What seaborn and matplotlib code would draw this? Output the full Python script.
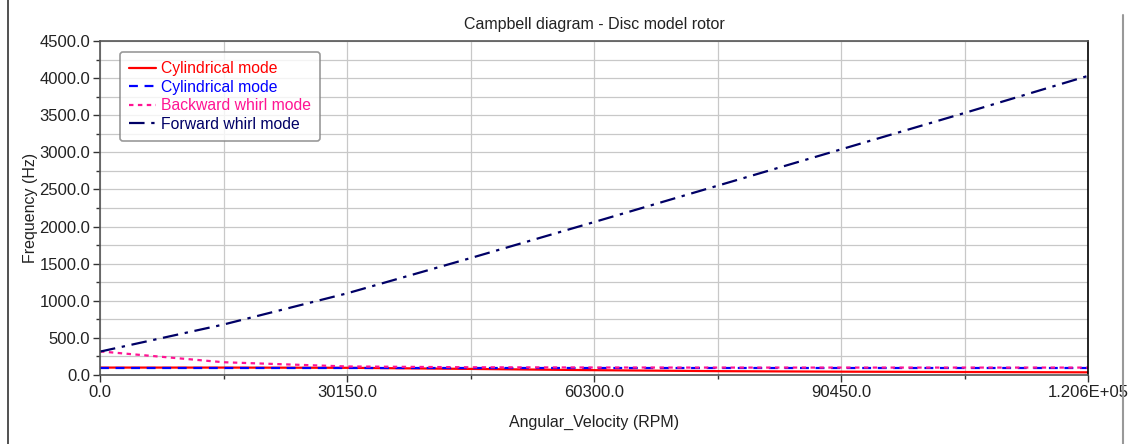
import numpy as np
import pandas as pd
import matplotlib
matplotlib.use("Agg")
import matplotlib.pyplot as plt
import seaborn as sns
from matplotlib.lines import Line2D
from matplotlib.ticker import MultipleLocator

# ---- data ----
rpm = [0, 15075, 30150, 45225, 60300, 75375, 90450, 105525, 120600]
cyl_red = [100, 100, 97, 82, 65, 52, 45, 40, 36]
cyl_blue = [100, 100, 100, 100, 100, 100, 100, 100, 100]
backward = [318, 172, 115, 104, 101, 100, 100, 100, 100]
forward = [315, 680, 1100, 1575, 2060, 2550, 3040, 3530, 4030]

series_names = ["Cylindrical mode", "Cylindrical mode", "Backward whirl mode", "Forward whirl mode"]
xtick_vals = [0, 30150, 60300, 90450, 120600]
xtick_labels = ["0.0", "30150.0", "60300.0", "90450.0", "1.206E+05"]
ytick_vals = [0, 500, 1000, 1500, 2000, 2500, 3000, 3500, 4000, 4500]

sns.set_theme(style="white")
plt.rcParams["font.family"] = ["Liberation Sans", "DejaVu Sans"]

fig = plt.figure(figsize=(11.28, 4.44), dpi=100)
ax = fig.add_axes([100 / 1128, 1 - 375 / 444, 988 / 1128, 334 / 444])

colors = ["#ff0000", "#0000ff", "#ff1493", "#000066"]
styles = ["-", (0, (4, 3)), (0, (2, 2)), (0, (7, 3, 1.5, 3))]
ys = [cyl_red, cyl_blue, backward, forward]
for name, y, c, ls in zip(series_names, ys, colors, styles):
    df = pd.DataFrame({"x": rpm, "y": y})
    sns.lineplot(data=df, x="x", y="y", ax=ax, color=c, linestyle=ls,
                 linewidth=1.6, label=name, legend=False)

ax.set_xlim(0, 120600)
ax.set_ylim(0, 4500)
ax.set_xticks(xtick_vals)
ax.set_xticklabels(xtick_labels)
ax.set_yticks(ytick_vals)
ax.set_yticklabels([f"{v:.1f}" for v in ytick_vals])
ax.xaxis.set_minor_locator(MultipleLocator(15075))
ax.yaxis.set_minor_locator(MultipleLocator(250))
ax.grid(True, which="both", color="#c8c8c8", linewidth=0.9)
ax.set_axisbelow(True)
ax.tick_params(axis="both", which="major", direction="out", length=5, width=1,
               color="#333333", labelsize=12, labelcolor="#222222", pad=2,
               bottom=True, left=True)
ax.tick_params(axis="both", which="minor", direction="out", length=3, width=1,
               color="#333333", bottom=True, left=True)
for side in ["left", "bottom", "top"]:
    ax.spines[side].set_color("#555555")
    ax.spines[side].set_linewidth(1.2)
ax.spines["right"].set_color("#000000")
ax.spines["right"].set_linewidth(1.2)

ax.set_xlabel("Angular_Velocity (RPM)", fontsize=11.5, color="#222222", labelpad=11)
ax.set_ylabel("Frequency (Hz)", fontsize=11.5, color="#222222", labelpad=1)
ax.set_title("Campbell diagram - Disc model rotor", fontsize=11.5, color="#222222", pad=9)

handles = [Line2D([0], [0], color=c, linestyle=ls, linewidth=1.6) for c, ls in zip(colors, styles)]
leg = ax.legend(handles, series_names, loc="upper left", bbox_to_anchor=(0.02, 0.967),
                borderaxespad=0, fontsize=11.3, frameon=True, fancybox=True,
                edgecolor="#808080", handlelength=1.7, handletextpad=0.3,
                labelspacing=0.22, borderpad=0.6)
leg.get_frame().set_linewidth(1.2)
for txt, c in zip(leg.get_texts(), colors):
    txt.set_color(c)

# figure border lines
fig.add_artist(Line2D([8 / 1128, 8 / 1128], [0, 1], color="#333333", linewidth=1.2,
                      transform=fig.transFigure))
fig.add_artist(Line2D([1123 / 1128, 1123 / 1128], [0, 1 - 15 / 444], color="#999999",
                      linewidth=1.5, transform=fig.transFigure))

fig.savefig("out.png", dpi=100)
